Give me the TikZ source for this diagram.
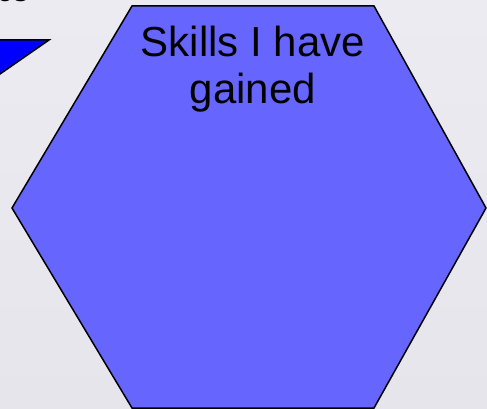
\documentclass[tikz,border=0pt]{standalone}
\usepackage{fontspec}
\setmainfont{Liberation Sans}
\definecolor{bgtop}{HTML}{ECEBF2}
\definecolor{bgmid}{HTML}{F8F8FA}
\definecolor{bgbot}{HTML}{E5E5EB}
\definecolor{hexfill}{HTML}{6666FF}
\tikzset{
  hexshape/.style={draw=black, line width=1.5pt, fill=hexfill, line join=miter},
  arrowpart/.style={draw=black, line width=1.5pt, fill=blue},
  bigtext/.style={font=\fontsize{42}{48}\selectfont, inner sep=0pt, anchor=base},
  cuttext/.style={font=\bfseries\fontsize{28}{32}\selectfont, inner sep=0pt, anchor=base west}
}
\begin{document}
\begin{tikzpicture}[x=1pt,y=-1pt]
\useasboundingbox (0,0) rectangle (487,409);
\clip (0,0) rectangle (487,409);
\shade[top color=bgtop, middle color=bgmid, bottom color=bgbot] (0,0) rectangle (487,409);
% cut-off title fragment
\node[cuttext] (cut) at (-3,1.8) {es};
% cut-off arrow
\path[arrowpart] (-30,40) -- (49,40) -- (-30,94.8) -- cycle;
% hexagon
\coordinate (h1) at (132,6);
\coordinate (h2) at (374,6);
\coordinate (h3) at (486,208);
\coordinate (h4) at (374,408);
\coordinate (h5) at (132,408);
\coordinate (h6) at (12,208);
\path[hexshape] (h1) -- (h2) -- (h3) -- (h4) -- (h5) -- (h6) -- cycle;
\node[bigtext] (line1) at (253,57) {Skills I have};
\node[bigtext] (line2) at (253,104) {gained};
\end{tikzpicture}
\end{document}
